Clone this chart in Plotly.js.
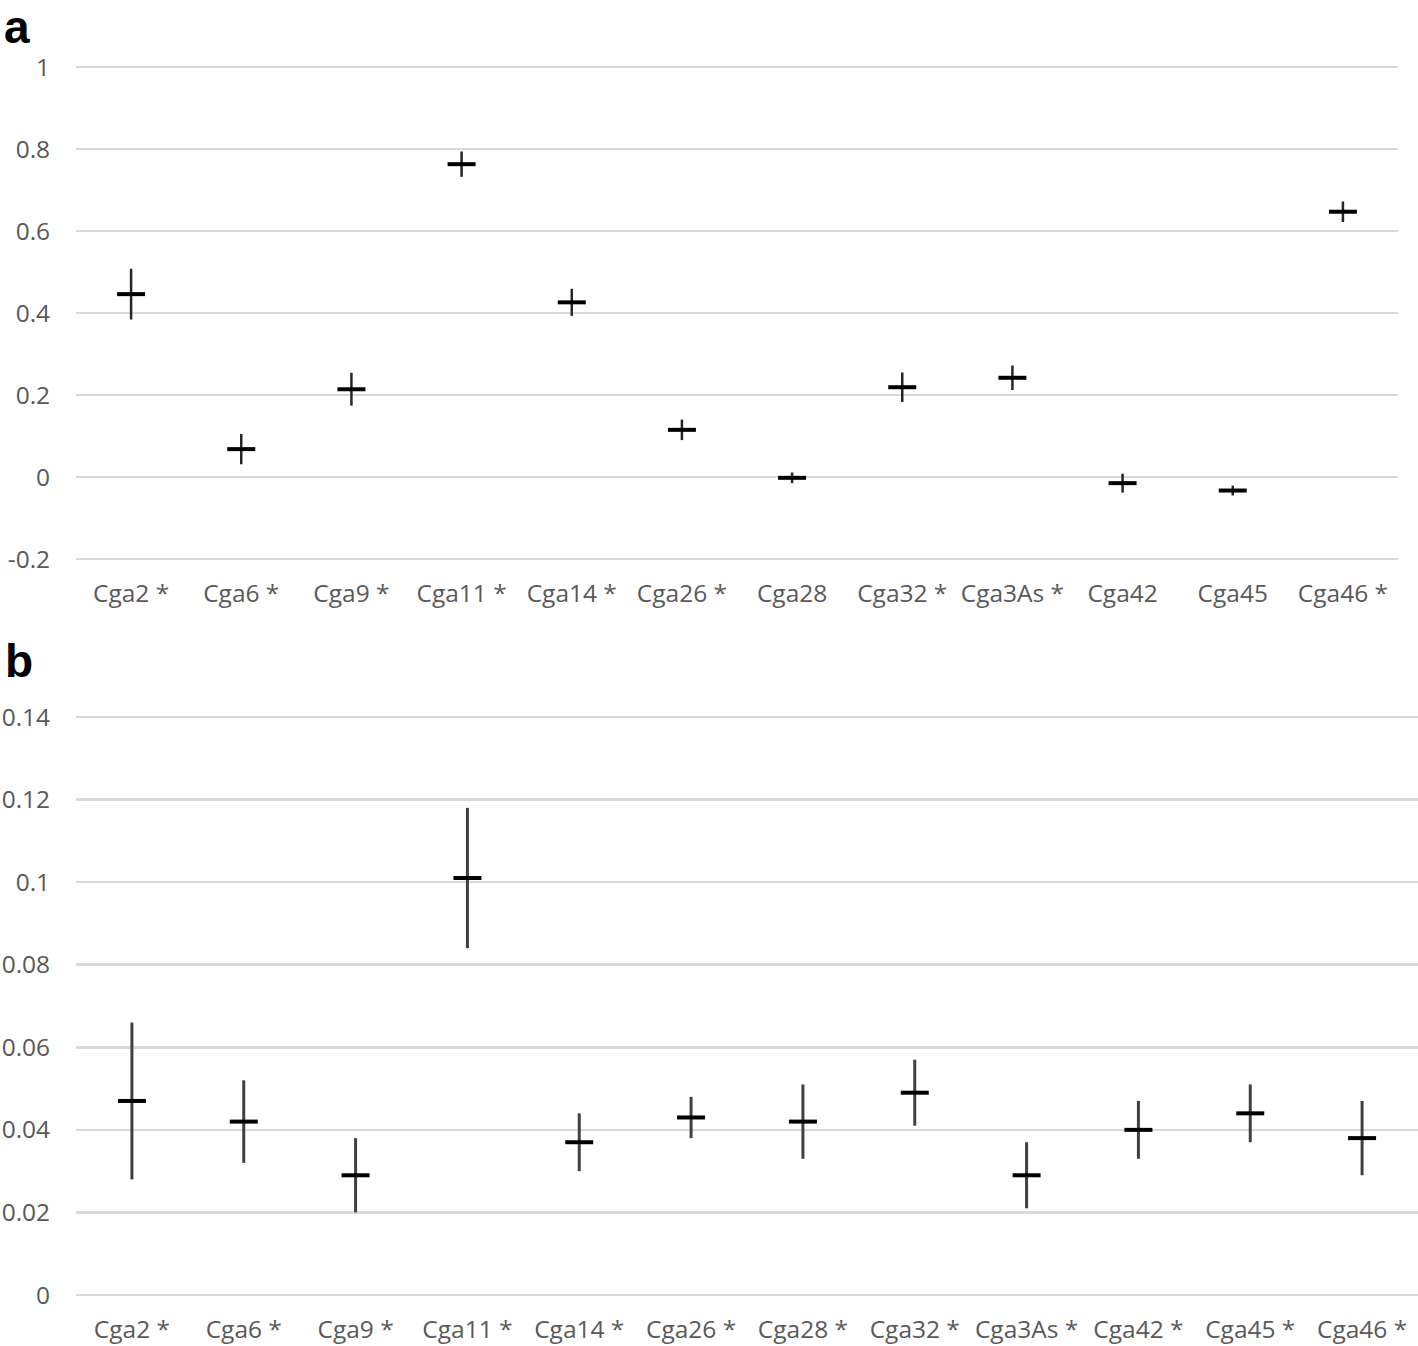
<!DOCTYPE html>
<html>
<head>
<meta charset="utf-8">
<script src="https://cdn.plot.ly/plotly-3.0.1.min.js"></script>
<style>
  body { margin: 0; background: #fff; }
  #chart { width: 1418px; height: 1346px; }
</style>
</head>
<body>
<div id="chart"></div>
<script>
// panel a
let lociA = ['Cga2 *', 'Cga6 *', 'Cga9 *', 'Cga11 *', 'Cga14 *', 'Cga26 *', 'Cga28', 'Cga32 *', 'Cga3As *', 'Cga42', 'Cga45', 'Cga46 *'];
let valuesA = [0.446, 0.068, 0.214, 0.763, 0.426, 0.115, -0.002, 0.219, 0.242, -0.015, -0.033, 0.647];
let errorsA = [0.062, 0.037, 0.040, 0.031, 0.033, 0.025, 0.013, 0.036, 0.030, 0.023, 0.012, 0.025];
let ticksA = [-0.2, 0, 0.2, 0.4, 0.6, 0.8, 1];
let tickTextA = ['-0.2', '0', '0.2', '0.4', '0.6', '0.8', '1'];

// panel b
let lociB = ['Cga2 *', 'Cga6 *', 'Cga9 *', 'Cga11 *', 'Cga14 *', 'Cga26 *', 'Cga28 *', 'Cga32 *', 'Cga3As *', 'Cga42 *', 'Cga45 *', 'Cga46 *'];
let valuesB = [0.047, 0.042, 0.029, 0.101, 0.037, 0.043, 0.042, 0.049, 0.029, 0.040, 0.044, 0.038];
let errorsB = [0.019, 0.010, 0.009, 0.017, 0.007, 0.005, 0.009, 0.008, 0.008, 0.007, 0.007, 0.009];
let ticksB = [0, 0.02, 0.04, 0.06, 0.08, 0.1, 0.12, 0.14];
let tickTextB = ['0', '0.02', '0.04', '0.06', '0.08', '0.1', '0.12', '0.14'];

let W = 1418, H = 1346;
let px = v => v / W;
let py = v => 1 - v / H;

let marker = {
    symbol: 'line-ew',
    size: 20,
    color: '#000',
    line: { color: '#000', width: 4 }
};

let trace1 = {
    x: lociA,
    y: valuesA,
    type: 'scatter',
    mode: 'markers',
    marker: marker,
    error_y: { type: 'data', array: errorsA, visible: true, color: '#262626', thickness: 2.5, width: 0 },
    xaxis: 'x',
    yaxis: 'y'
};

let trace2 = {
    x: lociB,
    y: valuesB,
    type: 'scatter',
    mode: 'markers',
    marker: marker,
    error_y: { type: 'data', array: errorsB, visible: true, color: '#404040', thickness: 3, width: 0 },
    xaxis: 'x2',
    yaxis: 'y2'
};

let tickFont = { family: 'Open Sans, sans-serif', size: 24.5, color: '#595959' };

let xCommon = {
    type: 'category',
    range: [-0.5, 11.5],
    showgrid: false,
    zeroline: false,
    showline: false,
    ticks: 'outside',
    ticklen: 10,
    tickcolor: 'rgba(0,0,0,0)',
    tickfont: tickFont,
    fixedrange: true
};

let yCommon = {
    showgrid: true,
    gridcolor: '#d9d9d9',
    gridwidth: 2.5,
    zeroline: false,
    showline: false,
    ticks: 'outside',
    ticklen: 20,
    tickcolor: 'rgba(0,0,0,0)',
    tickfont: tickFont,
    tickmode: 'array'
};

var layout = {
    width: W,
    height: H,
    margin: { l: 0, r: 0, t: 0, b: 0 },
    paper_bgcolor: '#fff',
    plot_bgcolor: '#fff',
    showlegend: false,
    xaxis: Object.assign({}, xCommon, { domain: [px(76), px(1398)], anchor: 'y', categoryarray: lociA }),
    yaxis: Object.assign({}, yCommon, { domain: [py(562), py(64)], anchor: 'x', range: [-0.20732, 1.00732],
        tickvals: ticksA, ticktext: tickTextA }),
    xaxis2: Object.assign({}, xCommon, { domain: [px(76), 1], anchor: 'y2', categoryarray: lociB }),
    yaxis2: Object.assign({}, yCommon, { domain: [py(1298), py(714)], anchor: 'x2', range: [-0.000727, 0.140727],
        tickvals: ticksB, ticktext: tickTextB }),
    annotations: [
        { text: '<b>a</b>', xref: 'paper', yref: 'paper', x: px(3), y: 1, xanchor: 'left', yanchor: 'top', showarrow: false,
          borderpad: 0, font: { family: 'Arial, Liberation Sans, sans-serif', size: 46, color: '#000' } },
        { text: '<b>b</b>', xref: 'paper', yref: 'paper', x: px(3), y: py(633), xanchor: 'left', yanchor: 'top', showarrow: false,
          font: { family: 'Arial, Liberation Sans, sans-serif', size: 46, color: '#000' } }
    ]
};

Plotly.newPlot('chart', [trace1, trace2], layout, { displayModeBar: false, staticPlot: true });
</script>
</body>
</html>
